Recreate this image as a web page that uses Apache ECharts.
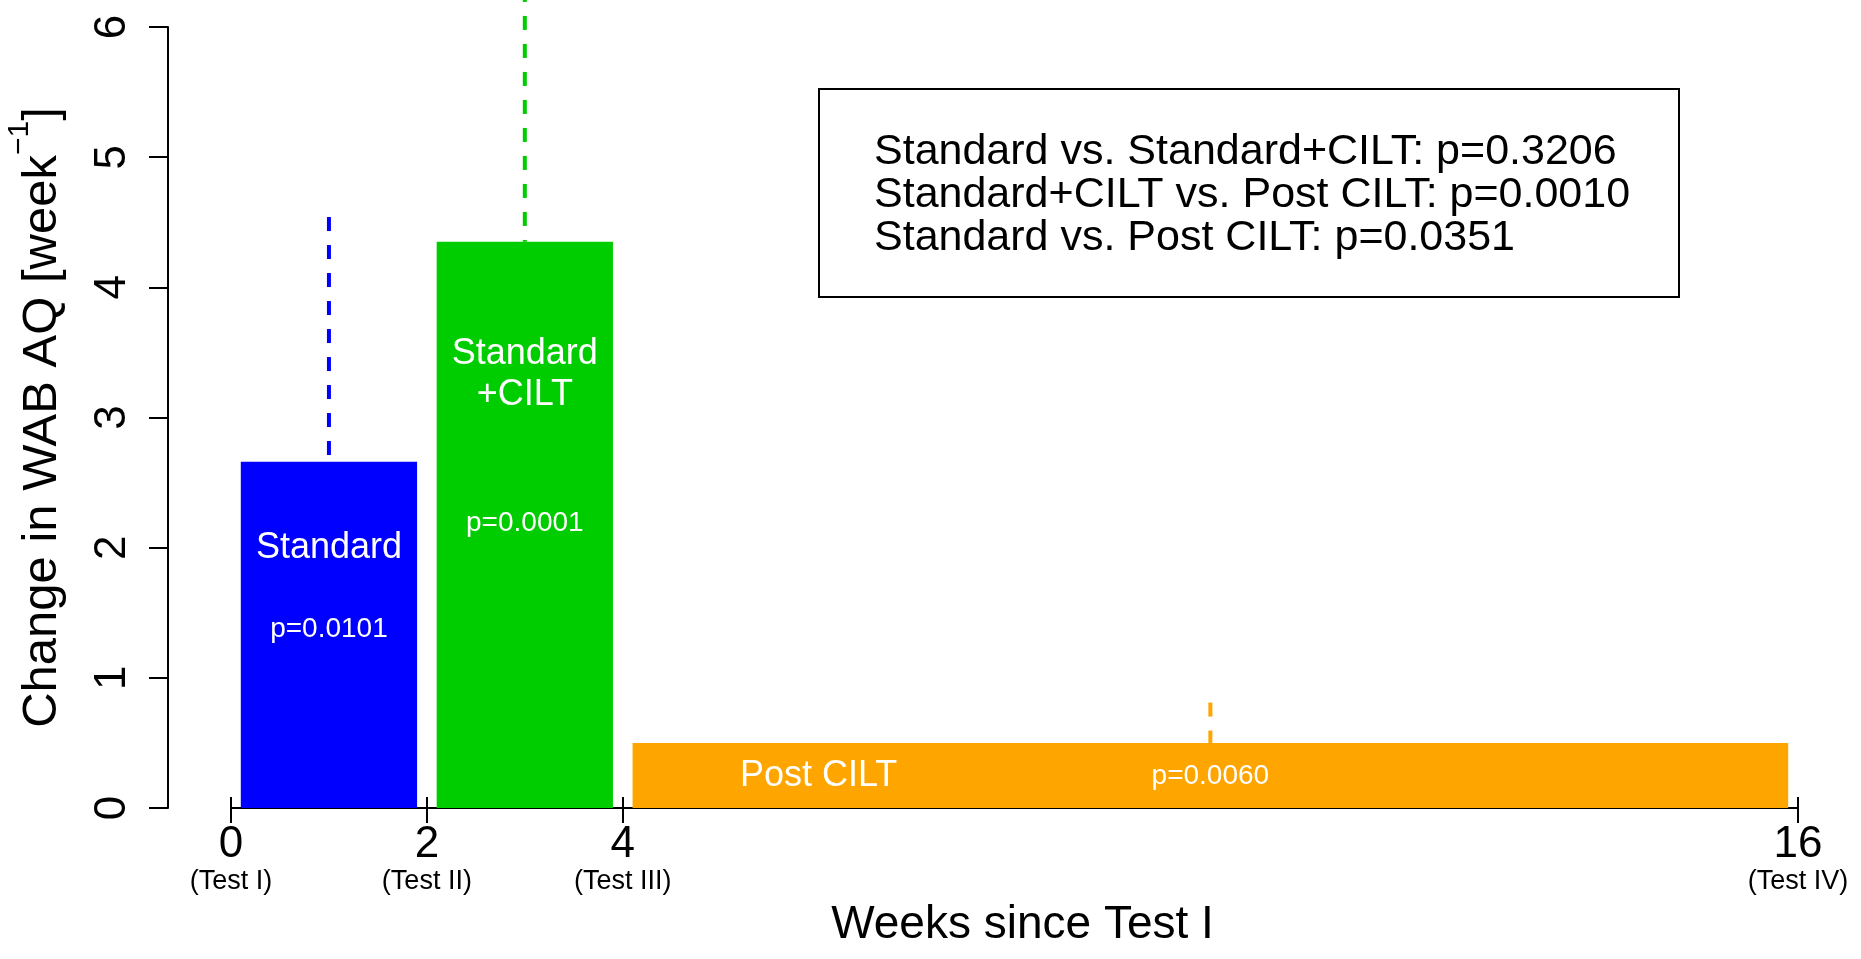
<!DOCTYPE html>
<html><head><meta charset="utf-8">
<script src="https://cdn.jsdelivr.net/npm/echarts@6.0.0/dist/echarts.min.js"></script>
<style>html,body{margin:0;padding:0;background:#fff}#c{width:1861px;height:959px}</style>
</head><body><div id="c"></div>
<script>
// ---- data ----
const groups = ['Standard', 'Standard+CILT', 'Post CILT'];
const barStart = [0.1, 2.1, 4.1];        // weeks
const barEnd = [1.9, 3.9, 15.9];         // weeks
const rate = [2.66, 4.35, 0.5];          // change in WAB AQ per week
const ciX = [1, 3, 10];                  // weeks, position of dashed upper bound
const ciUpper = [4.54, 6.3, 0.81];
const pValues = ['p=0.0101', 'p=0.0001', 'p=0.0060'];
const xTicks = [0, 2, 4, 16];
const xTickNames = ['(Test I)', '(Test II)', '(Test III)', '(Test IV)'];
const yTicks = [0, 1, 2, 3, 4, 5, 6];
const comparisons = [
  'Standard vs. Standard+CILT: p=0.3206',
  'Standard+CILT vs. Post CILT: p=0.0010',
  'Standard vs. Post CILT: p=0.0351'
];
const colors = ['#0000FF', '#00CD00', '#FFA500'];

// ---- label placement (data units) ----
const FF = '"Liberation Sans", Arial, Helvetica, sans-serif';
const inBarLabels = [
  {text: groups[0], x: 1, y: 2.0, size: 36},
  {text: pValues[0], x: 1, y: 1.37, size: 28},
  {text: groups[1].replace('+', '\n+'), x: 3, y: 3.33, size: 36},
  {text: pValues[1], x: 3, y: 2.19, size: 28},
  {text: groups[2], x: 6, y: 0.245, size: 36},
  {text: pValues[2], x: 10, y: 0.245, size: 28}
];

const chart = echarts.init(document.getElementById('c'), null, {renderer: 'canvas'});
const option = {
  backgroundColor: '#fff',
  animation: false,
  grid: {left: 231, right: 63, top: 27, bottom: 151, containLabel: false, outerBoundsMode: 'none'},
  xAxis: [{
    type: 'value', min: 0, max: 16, position: 'bottom',
    axisLine: {show: true, onZero: false, lineStyle: {color: '#000', width: 2}},
    axisTick: {show: true, customValues: xTicks, length: 15, lineStyle: {color: '#000', width: 2}},
    axisLabel: {
      customValues: xTicks, margin: 15, color: '#000',
      formatter: v => '{n|' + v + '}\n{t|' + xTickNames[xTicks.indexOf(v)] + '}',
      rich: {
        n: {fontSize: 44, lineHeight: 44, fontFamily: FF, color: '#000'},
        t: {fontSize: 27, lineHeight: 30, fontFamily: FF, color: '#000'}
      }
    },
    splitLine: {show: false},
    name: 'Weeks since Test I', nameLocation: 'middle', nameGap: 94,
    nameTextStyle: {fontSize: 46, color: '#000', fontFamily: FF, padding: [0, 0, 0, 16]}
  }, {
    type: 'value', min: 0, max: 16, position: 'bottom',
    axisLine: {show: false},
    axisTick: {show: true, inside: true, customValues: xTicks, length: 11, lineStyle: {color: '#000', width: 2}},
    axisLabel: {show: false}, splitLine: {show: false}
  }],
  yAxis: {
    type: 'value', min: yTicks[0], max: yTicks[yTicks.length - 1], interval: 1, offset: 63,
    axisLine: {show: true, onZero: false, lineStyle: {color: '#000', width: 2}},
    axisTick: {show: true, length: 19, lineStyle: {color: '#000', width: 2}},
    axisLabel: {rotate: 90, margin: 55, verticalAlign: 'middle', fontSize: 44, color: '#000', fontFamily: FF},
    splitLine: {show: false},
    name: '{a|Change in WAB AQ [week}{s|\u22121}{a|]}',
    nameLocation: 'middle', nameGap: 132, nameRotate: 90,
    nameTextStyle: {
      verticalAlign: 'middle', color: '#000',
      rich: {
        a: {fontSize: 49, lineHeight: 62, verticalAlign: 'bottom', fontFamily: FF, color: '#000'},
        s: {fontSize: 30, lineHeight: 34, verticalAlign: 'top', fontFamily: FF, color: '#000'}
      }
    }
  },
  series: [{
    type: 'custom', name: 'bars',
    data: groups.map((g, i) => [barStart[i], barEnd[i], rate[i], i]),
    encode: {x: [0, 1], y: 2},
    renderItem: (params, api) => {
      const p0 = api.coord([api.value(0), 0]);
      const p1 = api.coord([api.value(1), api.value(2)]);
      return {type: 'rect', shape: {x: p0[0], y: p1[1], width: p1[0] - p0[0], height: p0[1] - p1[1]},
              style: {fill: colors[api.value(3)]}};
    }
  }, {
    type: 'custom', name: 'upper', clip: false,
    data: groups.map((g, i) => [ciX[i], rate[i], ciUpper[i], i]),
    encode: {x: 0, y: [1, 2]},
    renderItem: (params, api) => {
      const a = api.coord([api.value(0), api.value(1)]);
      const b = api.coord([api.value(0), api.value(2)]);
      return {type: 'line', shape: {x1: b[0], y1: b[1], x2: a[0], y2: a[1]},
              style: {stroke: colors[api.value(3)], lineWidth: 4, lineDash: [14, 14]}};
    }
  }, {
    type: 'custom', name: 'labels', silent: true,
    data: inBarLabels.map((l, i) => [l.x, l.y, i]),
    encode: {x: 0, y: 1},
    renderItem: (params, api) => {
      const l = inBarLabels[api.value(2)];
      const p = api.coord([l.x, l.y]);
      return {type: 'text', x: p[0], y: p[1],
              style: {text: l.text, fill: '#fff', fontSize: l.size, fontFamily: FF,
                      lineHeight: 41, align: 'center', verticalAlign: 'middle'}};
    }
  }],
  graphic: [{
    type: 'rect', x: 819, y: 89, shape: {width: 860, height: 208},
    style: {fill: '#fff', stroke: '#000', lineWidth: 2}, z: 10
  }, {
    type: 'text', x: 874, y: 195, z: 11,
    style: {text: comparisons.join('\n'), fill: '#000', fontSize: 43, fontFamily: FF,
            lineHeight: 43, align: 'left', verticalAlign: 'middle'}
  }]
};
chart.setOption(option);
</script></body></html>
